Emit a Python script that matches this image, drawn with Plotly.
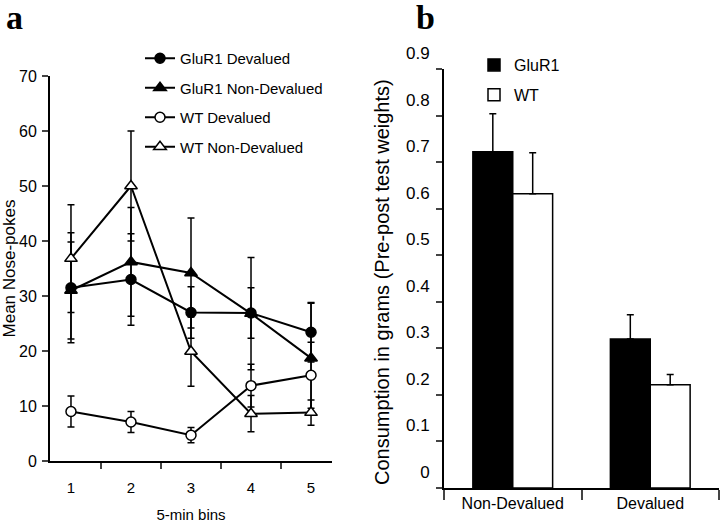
import plotly.graph_objects as go

# --- panel a: nose-pokes per 5-min bin ---
bins = ["1", "2", "3", "4", "5"]

glur1_dev = [31.5, 33.0, 27.0, 26.9, 23.4]
glur1_dev_err = [10.0, 8.3, 4.7, 4.6, 5.4]

glur1_nondev = [31.0, 36.2, 34.2, 26.8, 18.7]
glur1_nondev_err = [8.8, 9.9, 10.0, 10.2, 10.0]

wt_dev = [9.0, 7.1, 4.7, 13.7, 15.6]
wt_dev_err = [2.8, 1.9, 1.4, 3.9, 6.0]

wt_nondev = [36.8, 50.0, 19.9, 8.6, 8.8]
wt_nondev_err = [9.8, 10.0, 6.3, 3.3, 2.3]

# --- panel b: consumption ---
conditions = ["Non-Devalued", "Devalued"]
glur1_cons = [0.722, 0.320]
glur1_cons_err = [0.082, 0.052]
wt_cons = [0.632, 0.222]
wt_cons_err = [0.088, 0.022]

FONT = "Liberation Sans, Arial, sans-serif"
SERIF = "Liberation Serif, Times New Roman, serif"

fig = go.Figure()

series_a = [
    ("GluR1 Devalued", glur1_dev, glur1_dev_err, "circle", "black"),
    ("GluR1 Non-Devalued", glur1_nondev, glur1_nondev_err, "triangle-up", "black"),
    ("WT Devalued", wt_dev, wt_dev_err, "circle", "white"),
    ("WT Non-Devalued", wt_nondev, wt_nondev_err, "triangle-up", "white"),
]
for name, vals, errs, sym, fill in series_a:
    fig.add_trace(go.Scatter(
        x=bins, y=vals, name=name, mode="lines+markers",
        line=dict(color="black", width=2),
        marker=dict(symbol=sym, size=10 if sym == "circle" else 11, color=fill,
                    line=dict(color="black", width=1.5)),
        error_y=dict(type="data", array=errs, color="black", thickness=1.5, width=3.5),
        xaxis="x", yaxis="y", legend="legend", legendgroup=name,
    ))

fig.add_trace(go.Bar(
    x=conditions, y=glur1_cons, name="GluR1",
    marker=dict(color="black", line=dict(color="black", width=1.5)),
    error_y=dict(type="data", array=glur1_cons_err, arrayminus=[0, 0], symmetric=False,
                 color="black", thickness=1.5, width=3.5),
    xaxis="x2", yaxis="y2", legend="legend2", legendgroup="g",
))
fig.add_trace(go.Bar(
    x=conditions, y=wt_cons, name="WT",
    marker=dict(color="white", line=dict(color="black", width=1.5)),
    error_y=dict(type="data", array=wt_cons_err, arrayminus=[0, 0], symmetric=False,
                 color="black", thickness=1.5, width=3.5),
    xaxis="x2", yaxis="y2", legend="legend2", legendgroup="w",
))

W, H = 720, 526

fig.update_layout(
    width=W, height=H,
    margin=dict(l=0, r=0, t=0, b=0),
    paper_bgcolor="white", plot_bgcolor="white",
    font=dict(family=FONT, color="black", size=15),
    barmode="group", bargap=0.42, bargroupgap=0,
    showlegend=True,
    xaxis=dict(
        domain=[50 / W, 332 / W], anchor="y", type="category", automargin=False,
        tickson="boundaries", ticks="outside", ticklen=6, tickwidth=2,
        showline=True, linewidth=2, linecolor="black", showgrid=False,
        tickfont=dict(size=15), ticklabelstandoff=12,
        title=dict(text="5-min bins", font=dict(size=15), standoff=14),
    ),
    yaxis=dict(
        domain=[(H - 461) / H, (H - 76) / H], anchor="x", range=[0, 70], automargin=False,
        tickvals=[0, 10, 20, 30, 40, 50, 60, 70],
        ticks="outside", ticklen=6, tickwidth=2, ticklabelstandoff=2,
        showline=True, linewidth=2, linecolor="black", showgrid=False, zeroline=False,
        tickfont=dict(size=16),
        title=dict(text="Mean Nose-pokes", font=dict(size=17), standoff=0),
    ),
    xaxis2=dict(
        domain=[444 / W, 719 / W], anchor="y2", type="category", automargin=False,
        tickson="boundaries", ticks="outside", ticklen=10, tickwidth=2,
        showline=True, linewidth=2, linecolor="black", showgrid=False,
        tickfont=dict(size=16),
    ),
    yaxis2=dict(
        domain=[(H - 488) / H, (H - 69) / H], anchor="x2", range=[0, 0.9], automargin=False,
        tickvals=[0, 0.1, 0.2, 0.3, 0.4, 0.5, 0.6, 0.7, 0.8, 0.9],
        ticktext=["0", "0.1", "0.2", "0.3", "0.4", "0.5", "0.6", "0.7", "0.8", "0.9"],
        ticks="outside", ticklen=6, tickwidth=2, ticklabelshift=-16, ticklabelstandoff=3,
        showline=True, linewidth=2, linecolor="black", showgrid=False, zeroline=False,
        tickfont=dict(size=17),
    ),
    legend=dict(
        x=140 / W, y=1 - 42 / H, xanchor="left", yanchor="top",
        font=dict(size=15), bgcolor="rgba(0,0,0,0)", tracegroupgap=7,
    ),
    legend2=dict(
        x=474 / W, y=1 - 48 / H, xanchor="left", yanchor="top",
        font=dict(size=16), bgcolor="rgba(0,0,0,0)", tracegroupgap=6,
    ),
    annotations=[
        dict(text="<b>a</b>", x=4 / W, y=1 - 17 / H, xref="paper", yref="paper",
             xanchor="left", yanchor="middle", showarrow=False,
             font=dict(family=SERIF, size=34)),
        dict(text="<b>b</b>", x=414 / W, y=1 - 17 / H, xref="paper", yref="paper",
             xanchor="left", yanchor="middle", showarrow=False,
             font=dict(family=SERIF, size=34)),
        dict(text="Consumption in grams (Pre-post test weights)",
             x=382 / W, y=(526 - 282) / H, xref="paper", yref="paper",
             xanchor="center", yanchor="middle", textangle=-90, showarrow=False,
             font=dict(size=20)),
    ],
)

fig.write_html("out.html", config={"displayModeBar": False},
               post_script="document.body.style.margin='0px';")
